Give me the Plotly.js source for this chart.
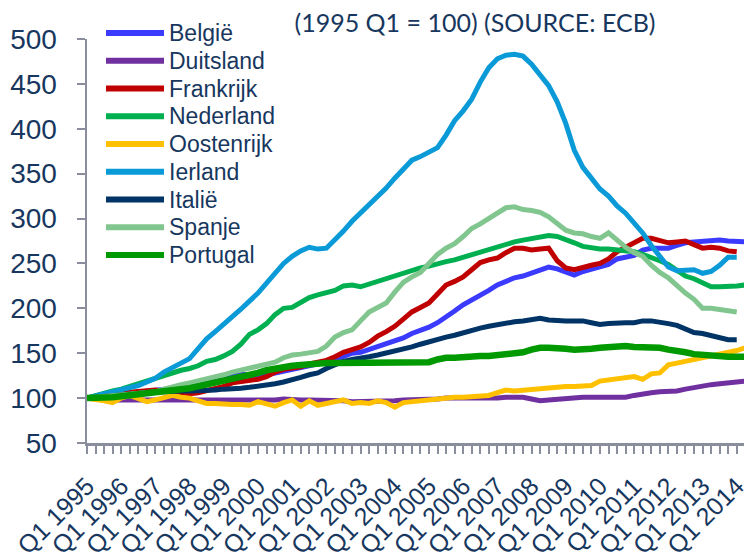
<!DOCTYPE html>
<html>
<head>
<meta charset="utf-8">
<script src="https://cdn.plot.ly/plotly-3.0.1.min.js"></script>
<style>html,body{margin:0;padding:0;background:#fff;}#chart{width:744px;height:553px;}</style>
</head>
<body>
<div id="chart"></div>
<script>
var years = [1995,1996,1997,1998,1999,2000,2001,2002,2003,2004,2005,2006,2007,2008,2009,2010,2011,2012,2013,2014];
var quarterNames = ["Q1","Q2","Q3","Q4"];

var belgie = [100,101,102,103,104,105,106,107,108,109,110,111,113,116,119,119,120,124,127,125,
  125,126,128,130,132,134,135,137,140,143,147,150,151,154,158,161,164,167,172,175,
  179,184,190,197,204,209,214,220,226,230,234,236,239,242,246,244,241,237,241,244,
  247,249,255,257,259,265,267,267,267,270,273,274,275,276,276,275,274,274];
var duitsland = [100,99,99,98,98,98,98,98,97,97,97,97,97,97,97,97,97,97,98,98,
  98,98,98,99,98,98,98,98,97,97,97,96,96,96,97,97,97,98,98,99,
  99,99,100,100,99,99,100,100,100,101,101,101,99,97,98,99,100,100,101,101,
  101,101,100,101,103,105,106,107,107,108,110,112,113,115,116,117,117,119];
var frankrijk = [100,101,103,105,106,107,108,109,109,108,107,106,105,106,108,110,113,117,118,119,
  121,124,129,132,133,135,138,140,142,146,151,154,157,162,169,174,180,188,196,201,
  206,216,226,230,235,243,251,254,256,262,267,267,265,266,267,253,245,243,246,248,
  250,255,263,268,274,278,278,276,273,274,275,271,267,268,267,264,263];
var nederland = [100,103,105,108,110,113,117,120,123,126,129,131,133,136,141,143,147,152,160,171,
  176,183,193,200,201,206,212,215,217,220,225,226,224,227,231,234,237,240,243,245,
  247,250,252,254,257,260,262,266,269,272,274,276,278,279,281,280,277,273,269,267,
  266,266,265,265,263,260,257,253,249,242,236,233,229,224,224,224,225,226];
var oostenrijk = [100,99,97,95,100,103,100,96,98,101,103,101,100,97,94,94,93,93,93,92,
  96,94,91,95,98,91,97,92,94,97,98,94,95,94,97,95,90,95,96,97,
  99,100,100,101,101,102,103,103,106,109,108,109,109,110,112,113,113,113,113,114,
  119,120,121,122,124,121,127,128,137,139,141,142,144,146,148,151,153,156];
var ierland = [100,103,105,107,109,111,114,118,122,129,134,138,144,155,166,174,182,190,199,208,
  217,228,239,250,258,264,268,266,267,276,286,297,306,315,324,334,345,356,365,369,
  374,379,393,409,420,433,452,468,478,482,483,481,472,460,448,430,406,376,357,345,
  333,325,314,306,296,284,270,258,246,242,242,243,239,241,248,257,257];
var italie = [100,101,102,103,104,105,106,107,107,107,108,108,108,108,109,109,110,110,111,112,
  113,114,116,118,120,123,126,128,133,137,141,143,144,146,148,150,152,155,157,160,
  163,165,168,170,173,175,178,180,182,184,185,186,188,189,187,186,186,186,186,184,
  182,183,184,184,184,186,186,185,183,181,177,173,172,170,168,165,165];
var spanje = [100,101,101,102,103,104,105,106,107,110,113,115,117,119,121,124,126,129,131,133,
  135,138,140,145,148,149,150,152,158,168,173,176,186,196,201,206,218,229,235,240,
  250,260,267,272,280,289,294,300,306,312,313,310,309,307,302,294,287,284,283,280,
  278,284,276,268,262,258,248,240,234,225,217,210,200,200,199,197,196];
var portugal = [100,100,101,101,102,103,104,105,106,108,109,110,111,113,115,118,120,122,124,126,
  128,131,133,135,136,137,138,138,139,139,139,139,139,140,140,140,140,140,140,140,
  140,143,145,145,146,146,147,147,148,149,150,151,154,156,156,156,155,154,154,155,
  156,157,158,158,157,157,157,156,154,153,151,149,148,147,147,146,146,146];

var seriesNames = ["België","Duitsland","Frankrijk","Nederland","Oostenrijk","Ierland","Italië","Spanje","Portugal"];
var seriesValues = [belgie,duitsland,frankrijk,nederland,oostenrijk,ierland,italie,spanje,portugal];
var seriesColors = ["#3B3BFF","#7030A0","#C00000","#00B050","#FFC000","#0A9AD7","#003366","#82C68F","#009900"];
var seriesWidths = [5,5,5,5,5,5,5,5,6.5];

var quarters = [];
years.forEach(function(y){ quarterNames.forEach(function(q){ quarters.push(q + " " + y); }); });
var tickText = quarters.map(function(q){ return q.indexOf("Q1") === 0 ? q : ""; });

var textColor = "#17375E";
var axisColor = "#8A8D9C";
var mainFont = "Liberation Sans, Arial, sans-serif";

var traces = seriesNames.map(function(name, k){
  var vals = seriesValues[k];
  return {
    type: "scatter", mode: "lines", name: name,
    x: quarters.slice(0, vals.length), y: vals,
    line: {color: seriesColors[k], width: seriesWidths[k], shape: "linear"},
    showlegend: false
  };
});

// manual legend (longer key lines than Plotly's built-in legend)
var W = 744, H = 553;
var shapes = [], annotations = [];
seriesNames.forEach(function(name, k){
  var yc = 33 + k * 27.75;
  shapes.push({
    type: "line", xref: "paper", yref: "paper",
    x0: (106 - 87) / 657, x1: (164 - 87) / 657,
    y0: (443 - yc) / 404, y1: (443 - yc) / 404,
    line: {color: seriesColors[k], width: 6}
  });
  annotations.push({
    text: name, xref: "paper", yref: "paper",
    x: (167 - 87) / 657, y: (443 - yc) / 404,
    xanchor: "left", yanchor: "middle", showarrow: false,
    font: {family: mainFont, size: 23, color: textColor}
  });
});

var layout = {
  width: W, height: H,
  margin: {l: 87, r: 0, t: 39, b: 110, pad: 0, autoexpand: false},
  paper_bgcolor: "#fff", plot_bgcolor: "#fff",
  title: {
    text: "(1995 Q1 = 100) (SOURCE: ECB)",
    font: {family: "Lato, Open Sans, sans-serif", size: 25, color: textColor},
    xref: "container", yref: "container", x: 475/744, xanchor: "center", y: 1 - 23/553, yanchor: "middle"
  },
  showlegend: false,
  shapes: shapes,
  annotations: annotations,
  xaxis: {
    type: "category",
    range: [0, 76.85],
    tickmode: "array", tickvals: quarters, ticktext: tickText,
    tickangle: -45,
    ticks: "outside", ticklen: 8, tickwidth: 2, tickcolor: axisColor,
    showline: true, linecolor: axisColor, linewidth: 2.5,
    showgrid: false, zeroline: false,
    ticklabelstandoff: 8,
    tickfont: {family: mainFont, size: 25, color: textColor},
    automargin: false
  },
  yaxis: {
    range: [50, 500],
    tickmode: "linear", tick0: 50, dtick: 50,
    ticks: "outside", ticklen: 8, tickwidth: 2, tickcolor: axisColor,
    showline: true, linecolor: axisColor, linewidth: 2.5,
    showgrid: false, zeroline: false,
    ticklabelstandoff: 14,
    tickfont: {family: mainFont, size: 28, color: textColor},
    automargin: false
  }
};

Plotly.newPlot("chart", traces, layout, {displayModeBar: false, staticPlot: true});
</script>
</body>
</html>
